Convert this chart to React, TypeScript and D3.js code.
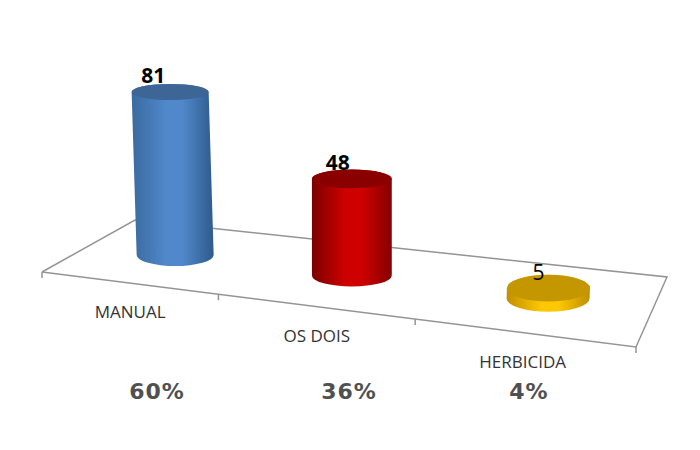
import * as d3 from 'd3';

const categories = ['MANUAL', 'OS DOIS', 'HERBICIDA'];
const values = [81, 48, 5];
const percents = ['60%', '36%', '4%'];
const sideStops = [
  ['#3a6a9f', '#5088cb', '#2f5a8c'],
  ['#7c0000', '#cf0000', '#860000'],
  ['#c08f00', '#ffc800', '#bd8f00'],
];
const topColors = ['#3d6595', '#8a0000', '#c49700'];

// floor corners, front-left / front-right / back-right / back-left
const FL = [42, 272];
const FR = [636, 347];
const BR = [667, 277];
const BL = [135, 220];
const pctX = [157, 349, 529];
const labelDx = [-17, -14, -10];
const categoryDx = [0, 0, -3];

// unit square -> floor quad
function makeProjection() {
  const [x0, y0] = FL, [x1, y1] = FR, [x2, y2] = BR, [x3, y3] = BL;
  const sx = x0 - x1 + x2 - x3, sy = y0 - y1 + y2 - y3;
  const dx1 = x1 - x2, dx2 = x3 - x2, dy1 = y1 - y2, dy2 = y3 - y2;
  const den = dx1 * dy2 - dx2 * dy1;
  const g = (sx * dy2 - dx2 * sy) / den;
  const h = (dx1 * sy - sx * dy1) / den;
  const a = x1 - x0 + g * x1, b = x3 - x0 + h * x3;
  const d = y1 - y0 + g * y1, e = y3 - y0 + h * y3;
  return (u: number, v: number): [number, number] => {
    const w = g * u + h * v + 1;
    return [(a * u + b * v + x0) / w, (d * u + e * v + y0) / w];
  };
}

const project = makeProjection();
const band = d3.scaleBand<string>().domain(categories).range([0, 1]).paddingInner(0).paddingOuter(0);
const heightScale = d3.scaleLinear().domain([0, 81]).range([0, 163]);
const radiusScale = d3.scaleLinear().domain([175, 548]).range([38.5, 41.5]);
const line = d3.line();

export default function App() {
  const bw = band.bandwidth();
  const edges = d3.range(categories.length + 1).map((i) => project(i * bw, 0));

  const bars = categories.map((c, i) => {
    const u = (band(c) as number) + bw / 2;
    const p = project(u, 0.5);
    const base: [number, number] = [p[0] + 2, p[1] + 1];
    const rx = radiusScale(base[0]);
    const h = heightScale(values[i]);
    const lean = (base[0] - 352) * h * 1.74e-4;
    const baseRy = 11 + Math.max(0, base[0] - 352) * 0.013;
    const topRy = baseRy - h * 0.018;
    const top: [number, number] = [base[0] + lean, base[1] - h];
    const side =
      `M${top[0] - rx},${top[1]} L${base[0] - rx},${base[1]} ` +
      `A${rx},${baseRy} 0 0 0 ${base[0] + rx},${base[1]} ` +
      `L${top[0] + rx},${top[1]} ` +
      `A${rx},${topRy} 0 0 0 ${top[0] - rx},${top[1]} Z`;
    return { c, i, base, top, rx, topRy, side };
  });

  return (
    <svg
      width={700}
      height={450}
      style={{ position: 'absolute', left: 0, top: 0, background: '#fff' }}
    >
      <defs>
        {sideStops.map((s, i) => (
          <linearGradient key={i} id={`side${i}`} x1="0" x2="1" y1="0" y2="0">
            <stop offset="0" stopColor={s[0]} />
            <stop offset="0.42" stopColor={s[1]} />
            <stop offset="0.62" stopColor={s[1]} />
            <stop offset="1" stopColor={s[2]} />
          </linearGradient>
        ))}
      </defs>

      <path
        d={line([FL, FR, BR, BL, FL] as [number, number][]) as string}
        fill="none"
        stroke="#949494"
        strokeWidth={1.5}
      />
      {edges.map((p, i) => (
        <line key={i} x1={p[0]} x2={p[0]} y1={p[1]} y2={p[1] + 6} stroke="#949494" strokeWidth={1.5} />
      ))}

      {bars.map((b) => (
        <g key={b.c}>
          <path d={b.side} fill={`url(#side${b.i})`} />
          <ellipse cx={b.top[0]} cy={b.top[1]} rx={b.rx} ry={b.topRy} fill={topColors[b.i]} />
        </g>
      ))}

      {bars.map((b) => (
        <text
          key={b.c}
          x={b.top[0] + labelDx[b.i]}
          y={b.top[1] - 8.5}
          textAnchor="middle"
          fontFamily="'Open Sans', sans-serif"
          fontWeight={b.i === 2 ? 400 : 700}
          fontSize={21}
          fill="#000"
        >
          {values[b.i]}
        </text>
      ))}

      {categories.map((c, i) => {
        const mx = (edges[i][0] + edges[i + 1][0]) / 2;
        const my = (edges[i][1] + edges[i + 1][1]) / 2;
        return (
          <text
            key={c}
            x={mx + categoryDx[i]}
            y={my + 35}
            textAnchor="middle"
            fontFamily="'Open Sans', sans-serif"
            fontSize={17}
            fill="#333"
          >
            {c}
          </text>
        );
      })}

      {percents.map((p, i) => (
        <text
          key={p}
          x={pctX[i]}
          y={399}
          textAnchor="middle"
          fontFamily="'DejaVu Sans', sans-serif"
          fontWeight={700}
          fontSize={22}
          letterSpacing={1}
          fill="#505050"
        >
          {p}
        </text>
      ))}
    </svg>
  );
}
